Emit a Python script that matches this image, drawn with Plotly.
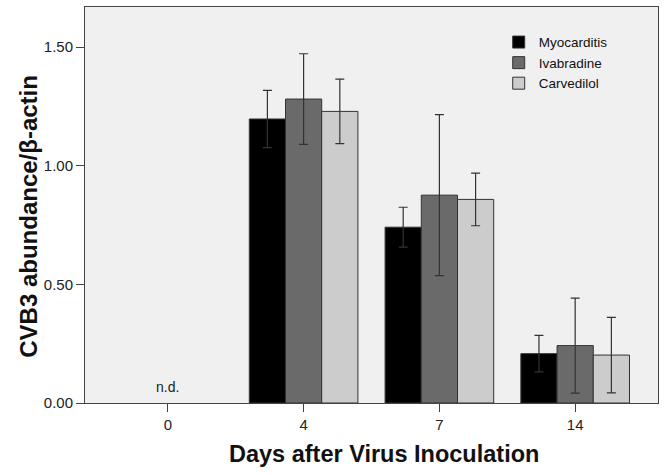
import plotly.graph_objects as go

days = ["0", "4", "7", "14"]
series_names = ["Myocarditis", "Ivabradine", "Carvedilol"]
myocarditis = [None, 1.197, 0.741, 0.208]
myocarditis_err = [None, 0.121, 0.084, 0.077]
ivabradine = [None, 1.281, 0.876, 0.242]
ivabradine_err = [None, 0.191, 0.339, 0.200]
carvedilol = [None, 1.229, 0.858, 0.202]
carvedilol_err = [None, 0.136, 0.111, 0.159]
y_ticks = [0.0, 0.5, 1.0, 1.5]
y_tick_labels = ["0.00", "0.50", "1.00", "1.50"]

values = [myocarditis, ivabradine, carvedilol]
errors = [myocarditis_err, ivabradine_err, carvedilol_err]
colors = ["#000000", "#6a6a6a", "#cccccc"]

FONT = "Liberation Sans, Arial, sans-serif"

fig = go.Figure()
for name, v, e, c in zip(series_names, values, errors, colors):
    fig.add_trace(go.Bar(
        x=days, y=v, name=name,
        marker=dict(color=c, line=dict(color="#333333", width=1)),
        error_y=dict(type="data", array=e, visible=True, color="#333333",
                     thickness=1.2, width=4.5),
    ))

fig.add_annotation(x="0", y=0, yshift=16, text="n.d.", showarrow=False,
                   xref="x", yref="y", font=dict(family=FONT, size=14, color="#222222"))

# axis titles
fig.add_annotation(x=0.522, y=-0.13, xref="paper", yref="paper", yanchor="middle",
                   text="<b>Days after Virus Inoculation</b>", showarrow=False,
                   font=dict(family=FONT, size=23.5, color="#111111"))
fig.add_annotation(x=-0.1, y=0.472, xref="paper", yref="paper", xanchor="center",
                   yanchor="middle", textangle=-90,
                   text="<b>CVB3 abundance/β-actin</b>", showarrow=False,
                   font=dict(family=FONT, size=24, color="#111111"))

fig.update_layout(
    width=664, height=475,
    margin=dict(l=85, r=6, t=7, b=72, autoexpand=False),
    paper_bgcolor="white",
    plot_bgcolor="#f0f0f0",
    barmode="group", bargap=0.2, bargroupgap=0,
    font=dict(family=FONT, color="#222222"),
    legend=dict(x=0.722, y=0.95, xanchor="left", yanchor="top",
                bgcolor="rgba(0,0,0,0)", font=dict(family=FONT, size=13.5, color="#111111"),
                tracegroupgap=0, itemwidth=30),
    showlegend=True,
)
fig.update_xaxes(
    type="category", range=[-0.61, 3.61], automargin=False,
    showline=True, linecolor="#444444", linewidth=1, mirror=True,
    ticks="outside", ticklen=8, tickcolor="#444444",
    tickfont=dict(family=FONT, size=15, color="#222222"),
    showgrid=False, zeroline=False,
)
fig.update_yaxes(
    range=[0, 1.669], tickvals=y_ticks, ticktext=y_tick_labels, automargin=False,
    showline=True, linecolor="#444444", linewidth=1, mirror=True,
    ticks="outside", ticklen=8, tickcolor="#444444",
    tickfont=dict(family=FONT, size=15, color="#222222"),
    showgrid=False, zeroline=False,
)

fig.write_html("out.html", config={"displayModeBar": False},
               post_script="document.body.style.margin='0px';")
